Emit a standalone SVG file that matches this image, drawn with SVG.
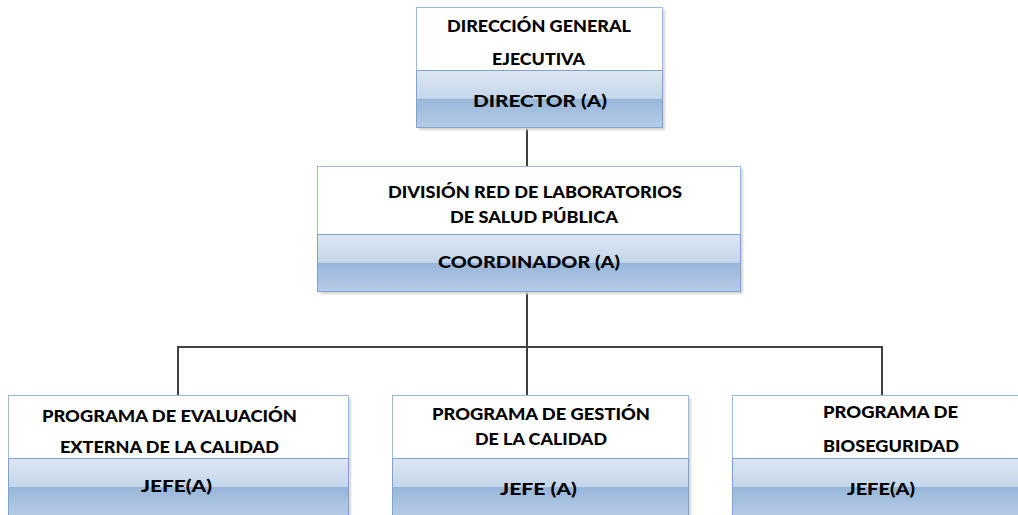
<svg xmlns="http://www.w3.org/2000/svg" width="1018" height="515" viewBox="0 0 1018 515">
  <defs>
    <linearGradient id="band" x1="0" y1="0" x2="0" y2="1">
      <stop offset="0" stop-color="#dde7f3"/>
      <stop offset="0.49" stop-color="#c4d6eb"/>
      <stop offset="0.5" stop-color="#98b6da"/>
      <stop offset="1" stop-color="#b6cce6"/>
    </linearGradient>
    <filter id="soft" x="-5%" y="-5%" width="110%" height="110%">
      <feGaussianBlur stdDeviation="1.2"/>
    </filter>
  </defs>
  <style>
    .shadow { fill: #d4d4d4; filter: url(#soft); }
    .head { fill: #ffffff; stroke: #9dbbdd; stroke-width: 1; }
    .role { fill: url(#band); stroke: #7fa3cd; stroke-width: 1; }
    .t { font-family: Lato, "Liberation Sans", sans-serif; font-weight: 900; font-size: 16.5px; fill: #000000; text-anchor: middle; }
    .link { stroke: #404040; stroke-width: 2; fill: none; }
  </style>

  <rect width="1018" height="515" fill="#ffffff"/>

  <g id="connectors">
    <line class="link" x1="527" y1="127" x2="527" y2="166"/>
    <line class="link" x1="527" y1="291" x2="527" y2="395"/>
    <polyline class="link" points="178,395 178,347 882,347 882,395"/>
  </g>

  <g id="direccion-general">
    <rect class="shadow" x="419" y="10" width="246" height="120"/>
    <rect class="head" x="416.5" y="7.5" width="246" height="63"/>
    <rect class="role" x="416.5" y="70.5" width="246" height="57"/>
    <text class="t" x="539" y="32" textLength="184" lengthAdjust="spacingAndGlyphs">DIRECCIÓN GENERAL</text>
    <text class="t" x="538.5" y="65" textLength="93" lengthAdjust="spacingAndGlyphs">EJECUTIVA</text>
    <text class="t" x="540" y="107" textLength="134" lengthAdjust="spacingAndGlyphs">DIRECTOR (A)</text>
  </g>

  <g id="division-red">
    <rect class="shadow" x="320" y="169" width="423" height="125"/>
    <rect class="head" x="317.5" y="166.5" width="423" height="68"/>
    <rect class="role" x="317.5" y="234.5" width="423" height="57"/>
    <text class="t" x="535" y="198" textLength="294" lengthAdjust="spacingAndGlyphs">DIVISIÓN RED DE LABORATORIOS</text>
    <text class="t" x="534" y="223" textLength="168" lengthAdjust="spacingAndGlyphs">DE SALUD PÚBLICA</text>
    <text class="t" x="529" y="268" textLength="182" lengthAdjust="spacingAndGlyphs">COORDINADOR (A)</text>
  </g>

  <g id="programa-evaluacion">
    <rect class="shadow" x="11" y="398" width="340" height="130"/>
    <rect class="head" x="8.5" y="395.5" width="340" height="63"/>
    <rect class="role" x="8.5" y="458.5" width="340" height="58"/>
    <text class="t" x="169.5" y="422" textLength="255" lengthAdjust="spacingAndGlyphs">PROGRAMA DE EVALUACIÓN</text>
    <text class="t" x="169.5" y="453" textLength="219" lengthAdjust="spacingAndGlyphs">EXTERNA DE LA CALIDAD</text>
    <text class="t" x="176.5" y="492" textLength="71" lengthAdjust="spacingAndGlyphs">JEFE(A)</text>
  </g>

  <g id="programa-gestion">
    <rect class="shadow" x="395" y="398" width="296" height="130"/>
    <rect class="head" x="392.5" y="395.5" width="296" height="63"/>
    <rect class="role" x="392.5" y="458.5" width="296" height="58"/>
    <text class="t" x="541" y="420" textLength="218" lengthAdjust="spacingAndGlyphs">PROGRAMA DE GESTIÓN</text>
    <text class="t" x="541" y="445" textLength="132" lengthAdjust="spacingAndGlyphs">DE LA CALIDAD</text>
    <text class="t" x="538.5" y="495" textLength="77" lengthAdjust="spacingAndGlyphs">JEFE (A)</text>
  </g>

  <g id="programa-bioseguridad">
    <rect class="shadow" x="735" y="398" width="300" height="130"/>
    <rect class="head" x="732.5" y="395.5" width="300" height="63"/>
    <rect class="role" x="732.5" y="458.5" width="300" height="58"/>
    <text class="t" x="890.5" y="418" textLength="135" lengthAdjust="spacingAndGlyphs">PROGRAMA DE</text>
    <text class="t" x="891" y="452" textLength="136" lengthAdjust="spacingAndGlyphs">BIOSEGURIDAD</text>
    <text class="t" x="881" y="495" textLength="68" lengthAdjust="spacingAndGlyphs">JEFE(A)</text>
  </g>
</svg>
